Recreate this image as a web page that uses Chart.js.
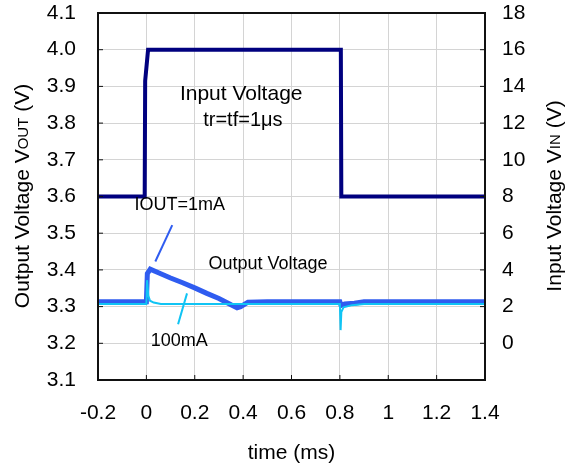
<!DOCTYPE html>
<html>
<head>
<meta charset="utf-8">
<script src="https://cdn.jsdelivr.net/npm/chart.js@4/dist/chart.umd.min.js"></script>
<style>
  body { margin: 0; background: #fff; }
  #wrap { width: 572px; height: 471px; }
</style>
</head>
<body>
<div id="wrap"><canvas id="stepChart"></canvas></div>
<script>
// data
const xTicks = [-0.2, 0, 0.2, 0.4, 0.6, 0.8, 1, 1.2, 1.4];
const yTicks = [3.1, 3.2, 3.3, 3.4, 3.5, 3.6, 3.7, 3.8, 3.9, 4.0, 4.1];
const y2Ticks = [0, 2, 4, 6, 8, 10, 12, 14, 16, 18];

// input voltage step (V), right axis
const vinTime = [-0.2, -0.007, -0.005, 0.007, 0.804, 0.806, 1.4];
const vinVolt = [8, 8, 14.3, 16, 16, 8, 8];

// output voltage, IOUT = 1mA
const out1Time = [-0.2, 0, 0.004, 0.016, 0.05, 0.1, 0.15, 0.2, 0.25, 0.3, 0.35, 0.375, 0.39, 0.42, 0.5, 0.8, 0.805, 0.82, 0.86, 0.9, 1.4];
const out1Volt = [3.313, 3.313, 3.39, 3.402, 3.392, 3.378, 3.365, 3.351, 3.336, 3.322, 3.305, 3.297, 3.3, 3.312, 3.313, 3.313, 3.303, 3.307, 3.309, 3.313, 3.313];

// output voltage, IOUT = 100mA
const out100Time = [-0.2, 0, 0.003, 0.008, 0.015, 0.03, 0.06, 0.8, 0.803, 0.806, 0.815, 0.85, 0.9, 1.4];
const out100Volt = [3.307, 3.307, 3.372, 3.33, 3.316, 3.311, 3.307, 3.307, 3.236, 3.285, 3.298, 3.304, 3.307, 3.307];

const pts = (xs, ys) => xs.map((x, i) => ({ x: x, y: ys[i] }));

const FONT = '"Liberation Sans", Arial, sans-serif';
const NAVY = '#00007f';
const BLUE = '#2f5cf0';
const CYAN = '#10c4f4';

// text notes, baseline placed in data units (x: ms, y: VOUT)
const notes = [
  { text: 'Input Voltage', x: 0.392, y: 3.864, size: 21 },
  { text: 'tr=tf=1\u03bcs', x: 0.399, y: 3.791, size: 20 },
  { text: 'IOUT=1mA', x: 0.138, y: 3.563, size: 18 },
  { text: 'Output Voltage', x: 0.503, y: 3.402, size: 18 },
  { text: '100mA', x: 0.136, y: 3.193, size: 18 }
];
const pointers = [
  { from: [0.107, 3.522], to: [0.037, 3.423], color: BLUE },
  { from: [0.168, 3.336], to: [0.131, 3.252], color: CYAN }
];

function drawMixed(ctx, parts, cx, cy) {
  let total = 0;
  parts.forEach(p => { ctx.font = p[1] + 'px ' + FONT; total += ctx.measureText(p[0]).width; });
  ctx.save();
  ctx.translate(cx, cy);
  ctx.rotate(-Math.PI / 2);
  ctx.textBaseline = 'middle';
  ctx.textAlign = 'left';
  let x = -total / 2;
  parts.forEach(p => {
    ctx.font = p[1] + 'px ' + FONT;
    ctx.fillText(p[0], x, p[2] || 0);
    x += ctx.measureText(p[0]).width;
  });
  ctx.restore();
}

const extras = {
  id: 'extras',
  afterDatasetsDraw(chart) {
    const ctx = chart.ctx;
    const a = chart.chartArea;
    const xs = chart.scales.x, ys = chart.scales.y, y2 = chart.scales.y2;
    ctx.save();
    // frame
    ctx.strokeStyle = '#111';
    ctx.lineWidth = 2;
    ctx.strokeRect(a.left, a.top, a.right - a.left, a.bottom - a.top);
    // inward tick marks
    ctx.lineWidth = 1;
    ctx.beginPath();
    xTicks.forEach(v => { const p = xs.getPixelForValue(v); ctx.moveTo(p, a.bottom); ctx.lineTo(p, a.bottom - 5); });
    yTicks.forEach(v => { const p = ys.getPixelForValue(v); ctx.moveTo(a.left, p); ctx.lineTo(a.left + 5, p); });
    y2Ticks.forEach(v => { const p = y2.getPixelForValue(v); ctx.moveTo(a.right, p); ctx.lineTo(a.right - 5, p); });
    ctx.stroke();
    // pointers
    ctx.lineWidth = 2;
    pointers.forEach(l => {
      ctx.strokeStyle = l.color;
      ctx.beginPath();
      ctx.moveTo(xs.getPixelForValue(l.from[0]), ys.getPixelForValue(l.from[1]));
      ctx.lineTo(xs.getPixelForValue(l.to[0]), ys.getPixelForValue(l.to[1]));
      ctx.stroke();
    });
    // notes
    ctx.fillStyle = '#000';
    ctx.textAlign = 'center';
    ctx.textBaseline = 'alphabetic';
    notes.forEach(n => {
      ctx.font = n.size + 'px ' + FONT;
      ctx.fillText(n.text, xs.getPixelForValue(n.x), ys.getPixelForValue(n.y));
    });
    // axis titles
    drawMixed(ctx, [['Output Voltage V', 21], ['OUT', 15, 1], [' (V)', 21]], 23, 196);
    drawMixed(ctx, [['Input Voltage V', 21], ['IN', 15, 1], [' (V)', 21]], 555, 196);
    ctx.font = '21px ' + FONT;
    ctx.textAlign = 'center';
    ctx.textBaseline = 'middle';
    ctx.fillText('time (ms)', (a.left + a.right) / 2, 453);
    ctx.restore();
  }
};

const noPad = s => { s.paddingTop = 0; s.paddingBottom = 0; s.paddingLeft = 0; s.paddingRight = 0; };

const ctx = document.getElementById('stepChart').getContext('2d');
new Chart(ctx, {
  type: 'line',
  data: {
    datasets: [
      { label: 'Input Voltage', data: pts(vinTime, vinVolt), yAxisID: 'y2', borderColor: NAVY, borderWidth: 4 },
      { label: '100mA', data: pts(out100Time, out100Volt), yAxisID: 'y', borderColor: CYAN, borderWidth: 2 },
      { label: '1mA', data: pts(out1Time, out1Volt), yAxisID: 'y', borderColor: BLUE, borderWidth: 5 }
    ]
  },
  options: {
    responsive: true,
    maintainAspectRatio: false,
    animation: false,
    layout: { padding: { top: 13, left: 0, right: 0, bottom: 0 } },
    elements: { point: { radius: 0 }, line: { tension: 0, fill: false, borderJoinStyle: 'miter' } },
    plugins: { legend: { display: false }, tooltip: { enabled: false } },
    scales: {
      x: {
        type: 'linear',
        min: -0.2, max: 1.4,
        afterBuildTicks: s => { s.ticks = xTicks.map(v => ({ value: v })); },
        afterFit: s => { s.height = 91; noPad(s); },
        grid: { color: '#d4d4d4', drawTicks: false },
        border: { display: false },
        ticks: { padding: 21, color: '#000', font: { family: FONT, size: 21 }, callback: v => String(Math.round(v * 10) / 10) }
      },
      y: {
        position: 'left',
        min: 3.1, max: 4.1,
        afterBuildTicks: s => { s.ticks = yTicks.map(v => ({ value: v })); },
        afterFit: s => { s.width = 98; noPad(s); },
        grid: { color: '#d4d4d4', drawTicks: false },
        border: { display: false },
        ticks: { padding: 22, color: '#000', font: { family: FONT, size: 21 }, callback: v => v.toFixed(1) }
      },
      y2: {
        position: 'right',
        min: -2, max: 18,
        afterBuildTicks: s => { s.ticks = y2Ticks.map(v => ({ value: v })); },
        afterFit: s => { s.width = 87; noPad(s); },
        grid: { display: false, drawTicks: false },
        border: { display: false },
        ticks: { padding: 17, color: '#000', font: { family: FONT, size: 21 } }
      }
    }
  },
  plugins: [extras]
});
</script>
</body>
</html>
